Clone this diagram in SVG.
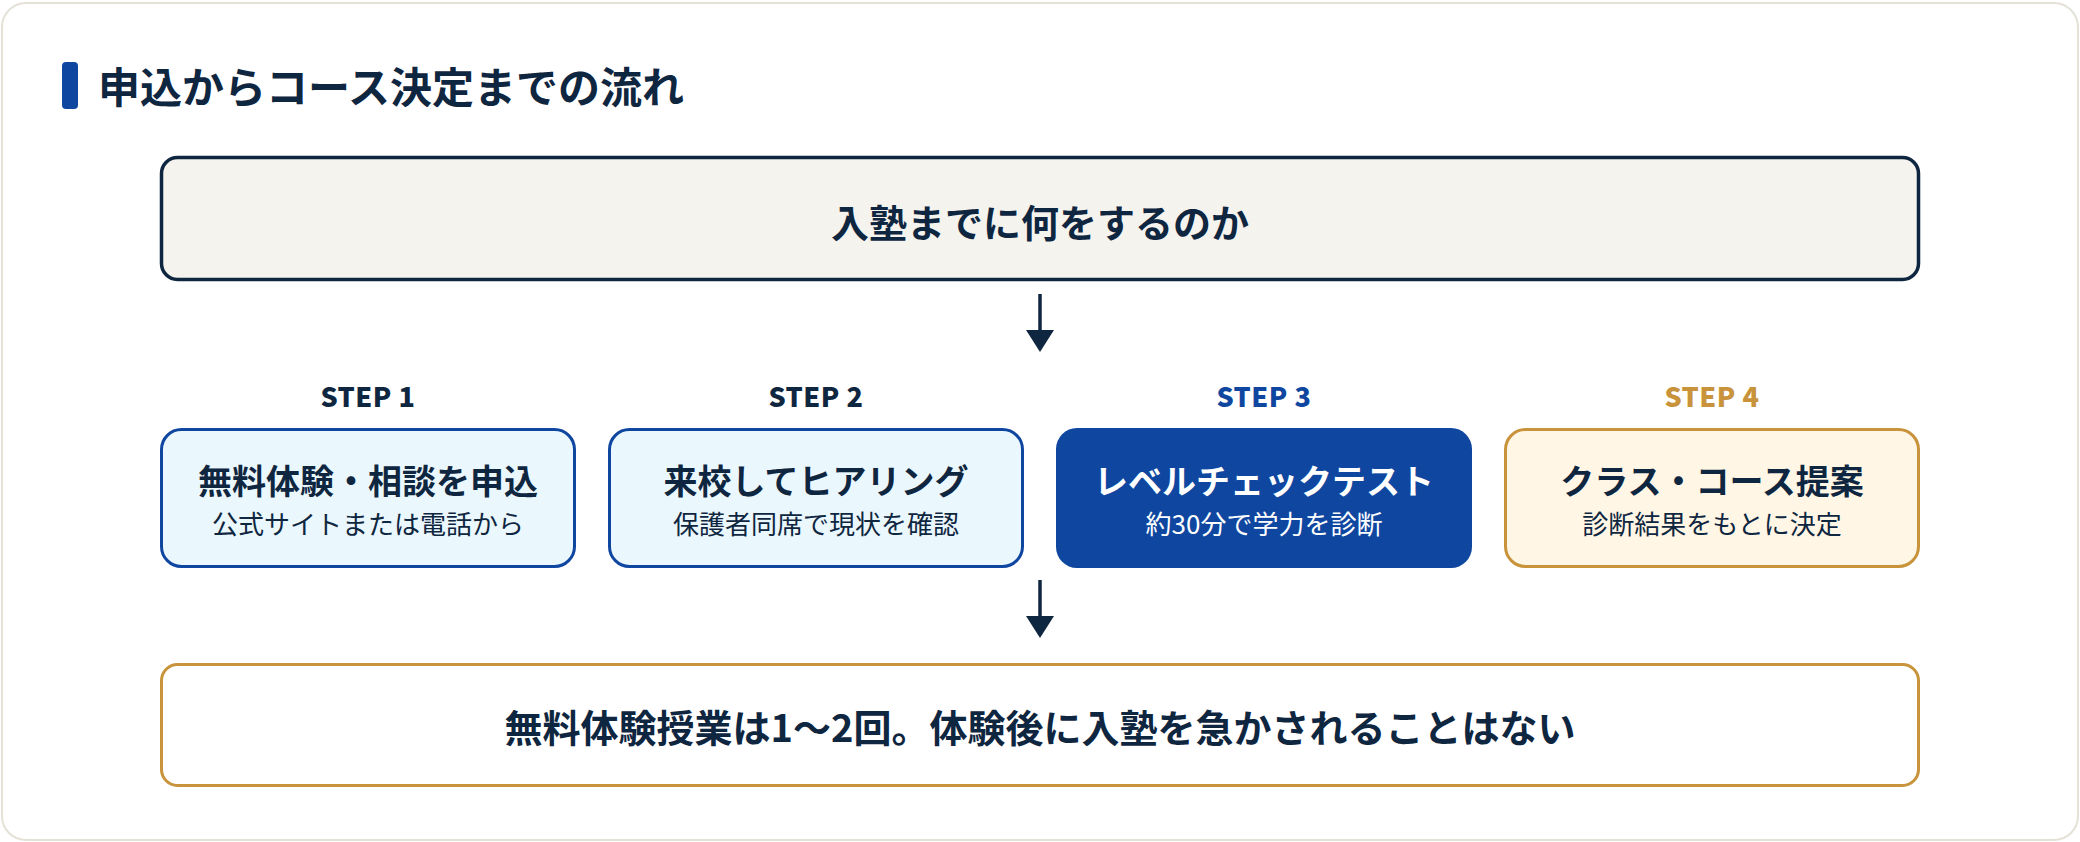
<svg xmlns="http://www.w3.org/2000/svg" width="2080" height="842" viewBox="0 0 2080 842">
<style>
  text { font-family: "Noto Sans CJK JP", "Noto Sans", sans-serif; }
  .navy { fill: #0f2640; }
  .h1 { font-size: 42px; font-weight: 700; }
  .big { font-size: 38px; font-weight: 700; text-anchor: middle; }
  .step { font-size: 27px; font-weight: 900; text-anchor: middle; letter-spacing: 0.5px; }
  .ttl { font-size: 34px; font-weight: 700; text-anchor: middle; }
  .sub { font-size: 26px; font-weight: 400; text-anchor: middle; }
  .blueBox { fill: #eaf7fd; stroke: #0f47a0; stroke-width: 3; }
  .goldBox { fill: #fff6e6; stroke: #c8933a; stroke-width: 3; }
  .conn { stroke: #0f2640; stroke-width: 3.5; fill: none; }
</style>
<rect x="0" y="0" width="2080" height="842" fill="#ffffff"/>
<rect x="2" y="3" width="2076" height="837" rx="24" fill="#ffffff" stroke="#e4e1d6" stroke-width="2"/>

<g id="title">
  <rect x="62" y="62" width="16" height="47" rx="4" fill="#0f47a0"/>
  <text x="98" y="103" class="h1 navy">申込からコース決定までの流れ</text>
</g>

<g id="node-top">
  <rect x="161.5" y="157.5" width="1757" height="122" rx="16" fill="#f5f3ee" stroke="#0f2640" stroke-width="3.5"/>
  <text x="1040" y="237" class="big navy">入塾までに何をするのか</text>
</g>

<g id="node-step1">
  <text x="368" y="407" class="step navy">STEP 1</text>
  <rect x="161.5" y="429.5" width="413" height="137" rx="20" class="blueBox"/>
  <text x="368" y="494" class="ttl navy">無料体験・相談を申込</text>
  <text x="368" y="534" class="sub navy">公式サイトまたは電話から</text>
</g>

<g id="node-step2">
  <text x="816" y="407" class="step navy">STEP 2</text>
  <rect x="609.5" y="429.5" width="413" height="137" rx="20" class="blueBox"/>
  <text x="816" y="494" class="ttl navy">来校してヒアリング</text>
  <text x="816" y="534" class="sub navy">保護者同席で現状を確認</text>
</g>

<g id="node-step3">
  <text x="1264" y="407" class="step" fill="#0f47a0">STEP 3</text>
  <rect x="1056" y="428" width="416" height="140" rx="21" fill="#0f47a0"/>
  <text x="1264" y="494" class="ttl" fill="#ffffff">レベルチェックテスト</text>
  <text x="1264" y="534" class="sub" fill="#ffffff">約30分で学力を診断</text>
</g>

<g id="node-step4">
  <text x="1712" y="407" class="step" fill="#c8933a">STEP 4</text>
  <rect x="1505.5" y="429.5" width="413" height="137" rx="20" class="goldBox"/>
  <text x="1712" y="494" class="ttl navy">クラス・コース提案</text>
  <text x="1712" y="534" class="sub navy">診断結果をもとに決定</text>
</g>

<g id="node-bottom">
  <rect x="161.5" y="664.5" width="1757" height="121" rx="16" fill="#ffffff" stroke="#c8933a" stroke-width="3"/>
  <text x="1040" y="742" class="big navy">無料体験授業は1～2回。体験後に入塾を急かされることはない</text>
</g>

<g id="connectors">
  <line x1="1040" y1="294" x2="1040" y2="332" class="conn"/>
  <polygon points="1026,330 1054,330 1040,352" fill="#0f2640"/>
  <line x1="1040" y1="580" x2="1040" y2="618" class="conn"/>
  <polygon points="1026,616 1054,616 1040,638" fill="#0f2640"/>
</g>
</svg>
